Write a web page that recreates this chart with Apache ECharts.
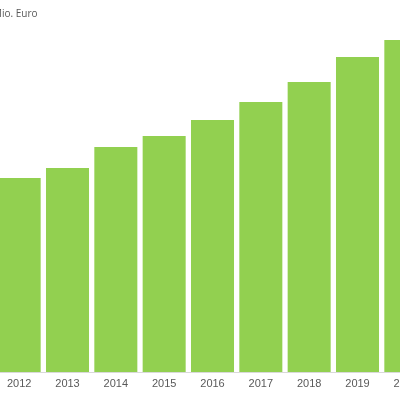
<!DOCTYPE html>
<html><head><meta charset="utf-8">
<script src="https://cdn.jsdelivr.net/npm/echarts@6/dist/echarts.min.js"></script>
<style>html,body{margin:0;padding:0;background:#fff}#c{width:400px;height:400px}</style>
</head><body><div id="c"></div>
<script>
var years = ['2012','2013','2014','2015','2016','2017','2018','2019','2020'];
var values = [1940, 2040, 2250, 2360, 2520, 2700, 2900, 3150, 3320];
var unitLabel = 'Mio. Euro';
var chart = echarts.init(document.getElementById('c'));
chart.setOption({
  animation: false,
  graphic: [{ type: 'text', left: -7, top: 9, style: { text: unitLabel, fill: '#595959', font: '10px "Open Sans", Arial, sans-serif' } }],
  grid: { left: -5, width: 435, top: 0, height: 372, outerBoundsMode: 'none', containLabel: false },
  xAxis: {
    type: 'category', data: years,
    axisTick: { show: false },
    axisLine: { lineStyle: { color: '#d9d9d9' } },
    axisLabel: { color: '#595959', fontSize: 11, margin: 6, fontFamily: 'Liberation Sans, Arial, sans-serif' }
  },
  yAxis: { type: 'value', min: 0, max: 3720, show: false, splitLine: { show: false } },
  series: [{ type: 'bar', data: values, barCategoryGap: '11%', itemStyle: { color: '#92d050' } }]
});
</script></body></html>
